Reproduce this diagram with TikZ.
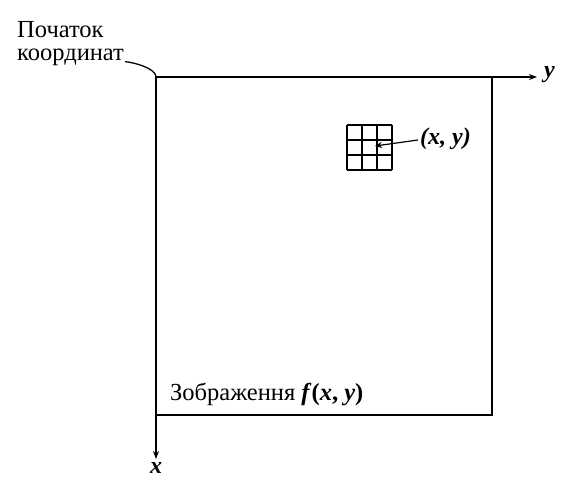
\documentclass[tikz,border=0pt]{standalone}
\usepackage{fontspec}
\setmainfont{Liberation Serif}
\usetikzlibrary{arrows.meta}
\begin{document}
\begin{tikzpicture}[x=1pt,y=-1pt,
  axis/.style={line width=1.4pt,-{Stealth[length=8pt,width=6pt]}},
  frame/.style={line width=1.3pt},
  lbl/.style={font=\fontsize{24.5}{23}\selectfont,inner sep=0pt},
  ital/.style={font=\fontsize{24}{24}\selectfont\bfseries\itshape,inner sep=0pt}]
\useasboundingbox (0,0) rectangle (571,497);
\coordinate (o) at (156,77);
\coordinate (yend) at (537,77);
\coordinate (xend) at (156,459);
\draw[axis] (o) -- (yend);
\draw[axis] (o) -- (xend);
\node[ital,anchor=west] (ylab) at (544,75) {y};
\node[ital,anchor=north] (xlab) at (156,462) {x};
\draw[frame] (o) rectangle (492,415);
\node[lbl,anchor=north west,align=left] (orig) at (17,21) {Початок\\координат};
\coordinate (leadend) at (156,76);
\draw[line width=1.3pt] (orig.south east) ++(1,-4) .. controls +(10,1) and +(-2,-8) .. (leadend);
\foreach \i in {0,1,2,3} {
  \draw[line width=1.3pt] (347+15*\i,125) -- (347+15*\i,170);
  \draw[line width=1.3pt] (347,125+15*\i) -- (392,125+15*\i);
}
\coordinate (pix) at (375,146);
\node[ital,anchor=west] (pxlab) at (420,139) {(x, y)};
\draw[line width=1.2pt,-{Stealth[length=7pt,width=6pt]}] (418,140) -- (pix);
\node[lbl,anchor=west] (img) at (170,394) {Зображення \textbf{\textit{f}(\textit{x}, \textit{y})}};
\end{tikzpicture}
\end{document}
